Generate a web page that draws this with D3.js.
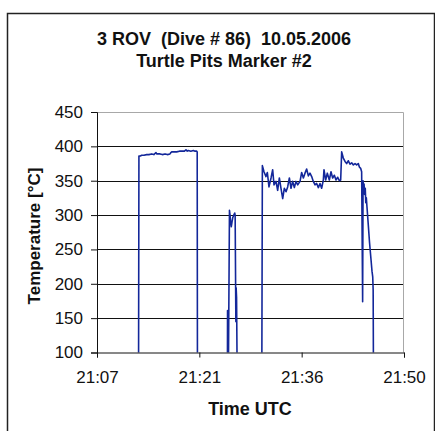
<!DOCTYPE html>
<html>
<head>
<meta charset="utf-8">
<script src="https://cdn.jsdelivr.net/npm/d3@7"></script>
<style>
  html, body { margin: 0; padding: 0; background: #fff; }
  svg { display: block; font-family: "Liberation Sans", Arial, sans-serif; }
</style>
</head>
<body>
<svg id="chart" width="435" height="431"></svg>
<script>
// Chart titles
const titleLines = ["3 ROV  (Dive # 86)  10.05.2006", "Turtle Pits Marker #2"];
const xTitle = "Time UTC";
const yTitle = "Temperature [°C]";

// Time axis (minutes after 21:00) and its labels
const xDomain = [7.2, 50.4];
const xTickMinutes = [7.2, 21.6, 36.0, 50.4];
const xTickLabels = ["21:07", "21:21", "21:36", "21:50"];

// Temperature axis
const yDomain = [100, 450];
const yTickValues = [100, 150, 200, 250, 300, 350, 400, 450];

// Logger record: time (minutes after 21:00) and temperature (°C)
const minutes = [
  12.90, 13.04, 13.10, 13.30, 13.49, 13.80, 14.19, 14.50, 14.89, 15.20,
  15.50, 15.60, 16.07, 16.40, 16.77, 17.10, 17.47, 17.60, 17.71, 18.05,
  18.41, 18.80, 19.11, 19.50, 19.72, 19.90, 20.05, 20.40, 20.76, 21.00,
  21.23, 21.30, 21.34,
  25.54, 25.57, 25.60, 25.63, 25.66, 25.84, 25.92, 26.02, 26.10, 26.20,
  26.30, 26.45, 26.58, 26.64, 26.74, 26.78, 26.84, 26.96,
  30.38, 30.47, 30.70, 30.98, 31.17, 31.40, 31.69, 31.92, 32.11, 32.39,
  32.62, 32.86, 33.09, 33.33, 33.56, 33.80, 34.03, 34.27, 34.50, 34.73,
  34.97, 35.20, 35.44, 35.77, 36.00, 36.24, 36.47, 36.70, 36.94, 37.17,
  37.41, 37.64, 37.88, 38.11, 38.35, 38.58, 38.81, 39.05, 39.14, 39.38,
  39.61, 39.89, 40.13, 40.36, 40.60, 40.83, 41.07, 41.30, 41.49, 41.63,
  41.86, 42.10, 42.33, 42.57, 42.80, 43.04, 43.27, 43.51, 43.74, 43.97,
  44.12, 44.30, 44.44, 44.58, 44.64, 44.72, 44.78, 44.86, 44.95, 45.02,
  45.10, 45.19, 45.38, 45.55, 45.76, 45.90, 46.00, 46.06, 46.12
];
const temperature = [
  18, 20, 386, 386, 387, 387, 388, 388, 389, 388,
  391, 389, 389, 388, 389, 388, 389, 391, 392, 392,
  392, 393, 393, 393, 395, 393, 394, 393, 394, 393,
  393, 392, 20,
  20, 161, 135, 20, 20, 307, 300, 288, 283, 290,
  296, 300, 303, 300, 145, 194, 180, 20,
  20, 372, 363, 356, 362, 341, 354, 366, 344, 349,
  336, 354, 339, 324, 339, 334, 341, 354, 339, 349,
  340, 349, 344, 349, 362, 354, 361, 367, 357, 361,
  356, 349, 344, 346, 340, 346, 339, 351, 366, 351,
  361, 351, 363, 354, 358, 351, 355, 350, 351, 392,
  383, 378, 375, 379, 374, 376, 373, 375, 373, 375,
  370, 368, 363, 174, 350, 336, 345, 330, 339, 318,
  325, 312, 285, 260, 235, 218, 210, 191, 20
];

const svg = d3.select("#chart");

// Outer chart frame
svg.append("rect")
  .attr("x", 7.5).attr("y", 13.5)
  .attr("width", 427).attr("height", 430)
  .attr("fill", "none").attr("stroke", "#222").attr("stroke-width", 1.5);

const plot = { left: 97, right: 404, top: 112, bottom: 352.5 };

const x = d3.scaleLinear().domain(xDomain).range([plot.left, plot.right]);
const y = d3.scaleLinear().domain(yDomain).range([plot.bottom, plot.top]);

// Horizontal gridlines
svg.append("g")
  .selectAll("line")
  .data(yTickValues.filter(v => v > yDomain[0] && v < yDomain[1]))
  .join("line")
  .attr("x1", plot.left).attr("x2", plot.right)
  .attr("y1", d => Math.round(y(d)) + 0.5).attr("y2", d => Math.round(y(d)) + 0.5)
  .attr("stroke", "#111").attr("stroke-width", 1);

// Plot-area border (top and right)
svg.append("path")
  .attr("d", `M${plot.left},${plot.top + 0.5}H${plot.right - 0.5}V${plot.bottom}`)
  .attr("fill", "none").attr("stroke", "#a8a8a8").attr("stroke-width", 1);

// Clip the record to the plot area
svg.append("clipPath").attr("id", "plot-clip")
  .append("rect")
  .attr("x", plot.left).attr("y", plot.top)
  .attr("width", plot.right - plot.left).attr("height", plot.bottom - plot.top);

const points = minutes.map((m, i) => [m, temperature[i]]);
svg.append("path")
  .datum(points)
  .attr("clip-path", "url(#plot-clip)")
  .attr("fill", "none")
  .attr("stroke", "#13279a")
  .attr("stroke-width", 1.6)
  .attr("stroke-linejoin", "round")
  .attr("d", d3.line().x(d => x(d[0])).y(d => y(d[1])));

// Y axis
const yAxis = svg.append("g")
  .attr("transform", `translate(${plot.left},0)`)
  .call(d3.axisLeft(y).tickValues(yTickValues).tickSize(6).tickPadding(8).tickFormat(d3.format("d")));
yAxis.select(".domain").attr("stroke", "#111");
yAxis.selectAll(".tick line").attr("stroke", "#111");
yAxis.selectAll("text").attr("font-size", 17).attr("fill", "#111")
  .attr("font-family", "'Liberation Sans', Arial, sans-serif");

// X axis
const xAxis = svg.append("g")
  .attr("transform", `translate(0,${plot.bottom})`)
  .call(d3.axisBottom(x).tickValues(xTickMinutes).tickSize(5).tickPadding(13)
    .tickFormat((d, i) => xTickLabels[i]));
xAxis.select(".domain").attr("stroke", "#111");
xAxis.selectAll(".tick line").attr("stroke", "#111");
xAxis.selectAll("text").attr("font-size", 17).attr("fill", "#111")
  .attr("font-family", "'Liberation Sans', Arial, sans-serif");

// Titles
svg.append("g").selectAll("text")
  .data(titleLines)
  .join("text")
  .attr("x", 224).attr("y", (d, i) => 45 + i * 21.5)
  .attr("text-anchor", "middle")
  .attr("font-size", 18).attr("font-weight", "bold").attr("fill", "#111")
  .style("white-space", "pre")
  .text(d => d);

svg.append("text")
  .attr("x", 250).attr("y", 415)
  .attr("text-anchor", "middle")
  .attr("font-size", 18).attr("font-weight", "bold").attr("fill", "#111")
  .text(xTitle);

svg.append("text")
  .attr("transform", "translate(40,236) rotate(-90)")
  .attr("text-anchor", "middle")
  .attr("font-size", 17).attr("font-weight", "bold").attr("fill", "#111")
  .text(yTitle);
</script>
</body>
</html>
